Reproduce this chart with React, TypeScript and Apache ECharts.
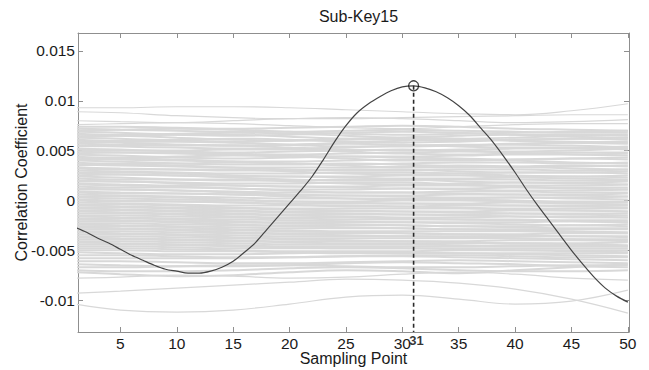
import React, { useEffect, useRef } from 'react';
import * as echarts from 'echarts';

const TITLE = 'Sub-Key15';
const X_NAME = 'Sampling Point';
const Y_NAME = 'Correlation Coefficient';

const X_MIN = 1.24;
const X_MAX = 50.1;
const Y_MIN = -0.0132;
const Y_MAX = 0.0168;

const X_TICKS = [5, 10, 15, 20, 25, 30, 35, 40, 45, 50];
const Y_TICKS = [-0.01, -0.005, 0, 0.005, 0.01, 0.015];
const Y_TICK_LABELS = ['-0.01', '-0.005', '0', '0.005', '0.01', '0.015'];

// correct key (dark curve), sampling points 1..50
const SAMPLE_POINTS = [
  1, 2, 3, 4, 5, 6, 7, 8, 9, 10, 11, 12, 13, 14, 15, 16, 17, 18, 19, 20, 21, 22, 23, 24, 25,
  26, 27, 28, 29, 30, 31, 32, 33, 34, 35, 36, 37, 38, 39, 40, 41, 42, 43, 44, 45, 46, 47, 48, 49, 50,
];
const CORRECT_KEY = [
  -0.0027, -0.0032, -0.0038, -0.0043, -0.0049, -0.0055, -0.006, -0.0065, -0.0069, -0.0071,
  -0.0073, -0.0073, -0.0071, -0.0067, -0.0061, -0.0052, -0.0042, -0.0029, -0.0016, -0.0003,
  0.001, 0.0024, 0.0041, 0.0059, 0.0075, 0.0088, 0.0097, 0.0104, 0.011, 0.0114,
  0.0115, 0.0113, 0.0109, 0.0103, 0.0095, 0.0085, 0.0072, 0.0059, 0.0044, 0.0028,
  0.0011, -0.0005, -0.002, -0.0035, -0.005, -0.0064, -0.0077, -0.0088, -0.0096, -0.0102,
];
const PEAK_X = 31;

// wrong keys (light grey curves), read at these sampling points, values in units of 1e-4
const WRONG_KEY_X = [1, 5, 10, 15, 20, 25, 30, 35, 40, 45, 50];
const WRONG_KEY_UNIT = 1e-4;
const WRONG_KEYS: number[][] = [
  [93, 93, 94, 94, 93, 91, 89, 87, 86, 90, 97],
  [89, 88, 85, 83, 82, 82, 83, 84, 85, 86, 86],
  [80, 79, 78, 80, 82, 83, 82, 80, 78, 79, 81],
  [76, 77, 78, 77, 75, 73, 72, 74, 76, 77, 77],
  [74, 74, 73, 72, 73, 74, 75, 74, 72, 71, 70],
  [72, 71, 70, 69, 69, 70, 71, 70, 69, 68, 68],
  [70, 71, 72, 71, 69, 67, 66, 67, 68, 69, 70],
  [69, 68, 66, 65, 66, 68, 69, 68, 66, 64, 63],
  [67, 66, 67, 68, 67, 65, 63, 62, 63, 65, 66],
  [66, 65, 63, 61, 60, 61, 63, 65, 66, 66, 65],
  [64, 65, 66, 66, 64, 62, 61, 60, 61, 62, 63],
  [63, 62, 60, 59, 60, 62, 63, 62, 60, 58, 57],
  [61, 60, 61, 62, 61, 59, 58, 59, 61, 62, 61],
  [60, 58, 56, 55, 56, 58, 60, 61, 60, 59, 58],
  [58, 59, 59, 58, 56, 54, 54, 55, 57, 58, 59],
  [57, 56, 55, 55, 56, 57, 56, 54, 53, 53, 54],
  [55, 54, 53, 52, 52, 53, 55, 56, 56, 55, 53],
  [54, 55, 56, 55, 53, 51, 50, 51, 52, 52, 51],
  [52, 51, 49, 48, 49, 50, 51, 50, 49, 50, 52],
  [51, 50, 50, 51, 51, 49, 47, 46, 47, 48, 48],
  [49, 48, 47, 46, 46, 47, 48, 49, 48, 46, 45],
  [47, 48, 48, 47, 45, 44, 44, 45, 46, 46, 47],
  [46, 45, 43, 42, 43, 44, 43, 42, 41, 42, 43],
  [44, 43, 44, 45, 44, 42, 40, 40, 41, 42, 41],
  [43, 41, 40, 39, 39, 40, 41, 41, 40, 38, 37],
  [41, 42, 41, 39, 37, 36, 37, 38, 38, 37, 38],
  [40, 39, 37, 36, 36, 37, 36, 34, 33, 34, 35],
  [38, 37, 37, 38, 37, 35, 33, 33, 34, 35, 34],
  [36, 35, 34, 33, 33, 33, 34, 35, 34, 32, 31],
  [35, 36, 35, 33, 31, 30, 30, 31, 31, 30, 31],
  [33, 32, 31, 30, 30, 31, 31, 29, 28, 28, 29],
  [32, 31, 31, 31, 29, 27, 26, 27, 28, 28, 27],
  [30, 29, 28, 27, 27, 28, 28, 27, 25, 24, 25],
  [28, 28, 27, 25, 24, 24, 25, 25, 24, 24, 23],
  [27, 26, 25, 24, 24, 23, 22, 22, 23, 22, 21],
  [25, 26, 25, 23, 21, 20, 20, 21, 21, 20, 20],
  [24, 23, 21, 20, 20, 21, 21, 19, 18, 18, 19],
  [22, 21, 21, 21, 19, 17, 16, 17, 18, 17, 16],
  [20, 19, 18, 17, 17, 18, 18, 16, 15, 15, 16],
  [19, 19, 17, 15, 14, 14, 15, 15, 14, 13, 13],
  [17, 16, 15, 15, 14, 13, 12, 12, 13, 12, 11],
  [16, 15, 14, 12, 11, 11, 12, 11, 10, 10, 11],
  [14, 13, 13, 12, 10, 8, 8, 9, 9, 8, 8],
  [12, 11, 10, 9, 8, 8, 8, 7, 6, 6, 7],
  [11, 11, 10, 8, 6, 5, 5, 6, 6, 5, 4],
  [9, 8, 7, 6, 5, 5, 4, 3, 3, 3, 4],
  [8, 7, 7, 6, 4, 2, 1, 2, 3, 2, 1],
  [6, 5, 4, 3, 2, 2, 2, 1, 0, -1, -1],
  [4, 4, 3, 1, -1, -1, 0, 0, -1, -2, -2],
  [3, 2, 1, 0, -1, -2, -3, -3, -2, -3, -4],
  [1, 0, -1, -2, -3, -3, -3, -4, -5, -5, -5],
  [0, -1, -1, -2, -4, -6, -6, -5, -5, -6, -7],
  [-2, -3, -4, -5, -5, -5, -6, -7, -8, -8, -8],
  [-4, -4, -5, -7, -8, -8, -8, -8, -9, -10, -11],
  [-5, -6, -7, -8, -9, -10, -11, -11, -10, -10, -11],
  [-7, -7, -8, -10, -11, -11, -11, -12, -13, -13, -13],
  [-8, -9, -10, -11, -12, -13, -14, -14, -13, -14, -15],
  [-10, -10, -11, -13, -14, -14, -14, -15, -16, -17, -17],
  [-11, -12, -13, -14, -15, -16, -17, -17, -16, -16, -17],
  [-13, -13, -14, -16, -17, -17, -18, -19, -20, -20, -20],
  [-15, -15, -16, -17, -18, -19, -19, -19, -19, -21, -22],
  [-16, -17, -18, -19, -20, -21, -22, -22, -22, -21, -22],
  [-18, -18, -19, -21, -22, -22, -22, -23, -24, -25, -24],
  [-19, -20, -21, -22, -23, -24, -25, -26, -26, -25, -26],
  [-21, -21, -22, -24, -25, -25, -25, -26, -27, -28, -28],
  [-23, -23, -24, -25, -26, -27, -28, -29, -29, -29, -29],
  [-24, -25, -26, -27, -28, -28, -28, -29, -30, -31, -32],
  [-26, -26, -27, -29, -30, -31, -31, -31, -31, -32, -33],
  [-27, -28, -29, -30, -31, -32, -33, -34, -34, -33, -33],
  [-29, -29, -30, -32, -33, -33, -33, -34, -35, -36, -36],
  [-31, -31, -32, -33, -34, -35, -36, -36, -36, -36, -37],
  [-32, -33, -34, -35, -36, -36, -36, -37, -38, -39, -39],
  [-34, -34, -35, -37, -38, -38, -38, -38, -38, -39, -40],
  [-36, -36, -37, -38, -39, -40, -41, -41, -40, -40, -41],
  [-37, -38, -39, -40, -41, -41, -41, -42, -43, -43, -42],
  [-39, -39, -40, -41, -42, -43, -43, -43, -43, -44, -45],
  [-41, -41, -42, -43, -44, -44, -44, -45, -46, -46, -46],
  [-42, -43, -44, -45, -46, -46, -46, -46, -45, -45, -46],
  [-44, -44, -45, -46, -47, -48, -48, -48, -48, -48, -48],
  [-46, -46, -47, -48, -48, -48, -48, -49, -50, -50, -50],
  [-48, -48, -49, -50, -51, -51, -51, -50, -50, -51, -52],
  [-50, -50, -51, -51, -52, -53, -53, -53, -53, -53, -53],
  [-52, -53, -54, -54, -53, -52, -52, -53, -54, -55, -56],
  [-55, -55, -56, -57, -57, -56, -55, -55, -56, -57, -57],
  [-58, -58, -58, -58, -57, -56, -56, -57, -58, -59, -60],
  [-61, -61, -62, -63, -63, -62, -61, -60, -61, -62, -63],
  [-64, -65, -66, -66, -65, -63, -62, -63, -64, -66, -67],
  [-67, -67, -66, -65, -65, -66, -67, -67, -66, -65, -65],
  [-70, -71, -71, -70, -68, -67, -68, -70, -71, -71, -70],
  [-72, -74, -76, -75, -72, -70, -71, -73, -70, -67, -64],
  [-78, -77, -75, -76, -78, -77, -74, -72, -74, -78, -80],
  [-93, -91, -88, -85, -82, -79, -80, -83, -89, -99, -113],
  [-104, -110, -112, -110, -104, -97, -95, -99, -104, -101, -90],
];

const FONT = 'Liberation Sans, Arial, Helvetica, sans-serif';
const TEXT_COLOR = '#1a1a1a';
const BOX_COLOR = '#8f8f8f';
const GREY = '#d8d8d8';

export default function App() {
  const ref = useRef<HTMLDivElement>(null);

  useEffect(() => {
    if (!ref.current) return;
    const chart = echarts.init(ref.current, undefined, { renderer: 'svg' });

    const peakIndex = SAMPLE_POINTS.indexOf(PEAK_X);
    const peakValue = CORRECT_KEY[peakIndex];

    const yLabel = (v: number) => {
      const i = Y_TICKS.findIndex((t) => Math.abs(t - v) < 1e-9);
      return i >= 0 ? Y_TICK_LABELS[i] : '';
    };

    const axisCommon = {
      type: 'value' as const,
      splitLine: { show: false },
      axisLine: { show: true, onZero: false, lineStyle: { color: BOX_COLOR, width: 1 } },
    };

    const greySeries = WRONG_KEYS.map((vals, k) => {
      const outlier = Math.max(...vals.map((v) => Math.abs(v))) > 76;
      return {
        type: 'line',
        name: 'wrong' + k,
        data: vals.map((v, i) => [WRONG_KEY_X[i], v * WRONG_KEY_UNIT]),
        smooth: 0.4,
        symbol: 'none',
        silent: true,
        lineStyle: { color: GREY, width: outlier ? 1.2 : 2 },
        z: 1,
      };
    });

    chart.setOption({
      animation: false,
      backgroundColor: '#ffffff',
      title: {
        text: TITLE,
        left: 353.5,
        top: 3,
        textAlign: 'center',
        textStyle: { fontFamily: FONT, fontSize: 16, fontWeight: 'normal', color: TEXT_COLOR },
      },
      grid: { left: 78, right: 20, top: 33, bottom: 38, show: false, containLabel: false, outerBoundsMode: 'none' },
      xAxis: [
        {
          ...axisCommon,
          position: 'bottom',
          min: X_MIN,
          max: X_MAX,
          axisTick: { show: true, inside: true, length: 5, customValues: X_TICKS, lineStyle: { color: BOX_COLOR } },
          axisLabel: {
            show: true,
            customValues: X_TICKS,
            margin: 5,
            lineHeight: 12,
            fontFamily: FONT,
            fontSize: 15.5,
            color: TEXT_COLOR,
          },
          name: X_NAME,
          nameLocation: 'middle',
          nameGap: 19,
          nameMoveOverlap: false,
          nameTextStyle: { fontFamily: FONT, fontSize: 16, lineHeight: 15, color: TEXT_COLOR },
        },
        {
          ...axisCommon,
          position: 'top',
          min: X_MIN,
          max: X_MAX,
          axisTick: { show: true, inside: true, length: 5, customValues: X_TICKS, lineStyle: { color: BOX_COLOR } },
          axisLabel: { show: false },
        },
      ],
      yAxis: [
        {
          ...axisCommon,
          position: 'left',
          min: Y_MIN,
          max: Y_MAX,
          axisTick: { show: true, inside: true, length: 5, customValues: Y_TICKS, lineStyle: { color: BOX_COLOR } },
          axisLabel: {
            show: true,
            customValues: Y_TICKS,
            formatter: yLabel,
            margin: 3,
            fontFamily: FONT,
            fontSize: 15.5,
            color: TEXT_COLOR,
          },
          name: Y_NAME,
          nameLocation: 'middle',
          nameGap: 49,
          nameMoveOverlap: false,
          nameTextStyle: { fontFamily: FONT, fontSize: 16, color: TEXT_COLOR },
        },
        {
          ...axisCommon,
          position: 'right',
          min: Y_MIN,
          max: Y_MAX,
          axisTick: { show: true, inside: true, length: 5, customValues: Y_TICKS, lineStyle: { color: BOX_COLOR } },
          axisLabel: { show: false },
        },
      ],
      series: [
        ...greySeries,
        {
          type: 'line',
          name: 'correct',
          data: CORRECT_KEY.map((v, i) => [SAMPLE_POINTS[i], v]),
          smooth: 0.3,
          symbol: 'none',
          lineStyle: { color: '#444444', width: 1.2 },
          z: 3,
        },
        {
          type: 'line',
          name: 'peakLine',
          data: [
            [PEAK_X, peakValue],
            [PEAK_X, Y_MIN],
          ],
          symbol: 'none',
          lineStyle: { color: '#2a2a2a', width: 1.6, type: [4, 3] },
          z: 4,
        },
        {
          type: 'scatter',
          name: 'peak',
          data: [[PEAK_X, peakValue]],
          symbol: 'circle',
          symbolSize: 10,
          itemStyle: { color: 'rgba(255,255,255,0)', borderColor: '#111111', borderWidth: 1.3 },
          z: 5,
        },
        {
          type: 'scatter',
          name: 'peakLabel',
          data: [[PEAK_X, Y_MIN]],
          symbol: 'circle',
          symbolSize: 1,
          itemStyle: { color: 'rgba(0,0,0,0)' },
          label: {
            show: true,
            formatter: String(PEAK_X),
            position: 'bottom',
            distance: 0,
            offset: [3, 1],
            lineHeight: 13,
            fontFamily: FONT,
            fontSize: 13,
            fontWeight: 'bold',
            color: '#000000',
          },
          z: 5,
        },
      ],
    });

    return () => chart.dispose();
  }, []);

  return (
    <div
      ref={ref}
      style={{ position: 'fixed', left: 0, top: 0, width: 649, height: 370, background: '#fff' }}
    />
  );
}
